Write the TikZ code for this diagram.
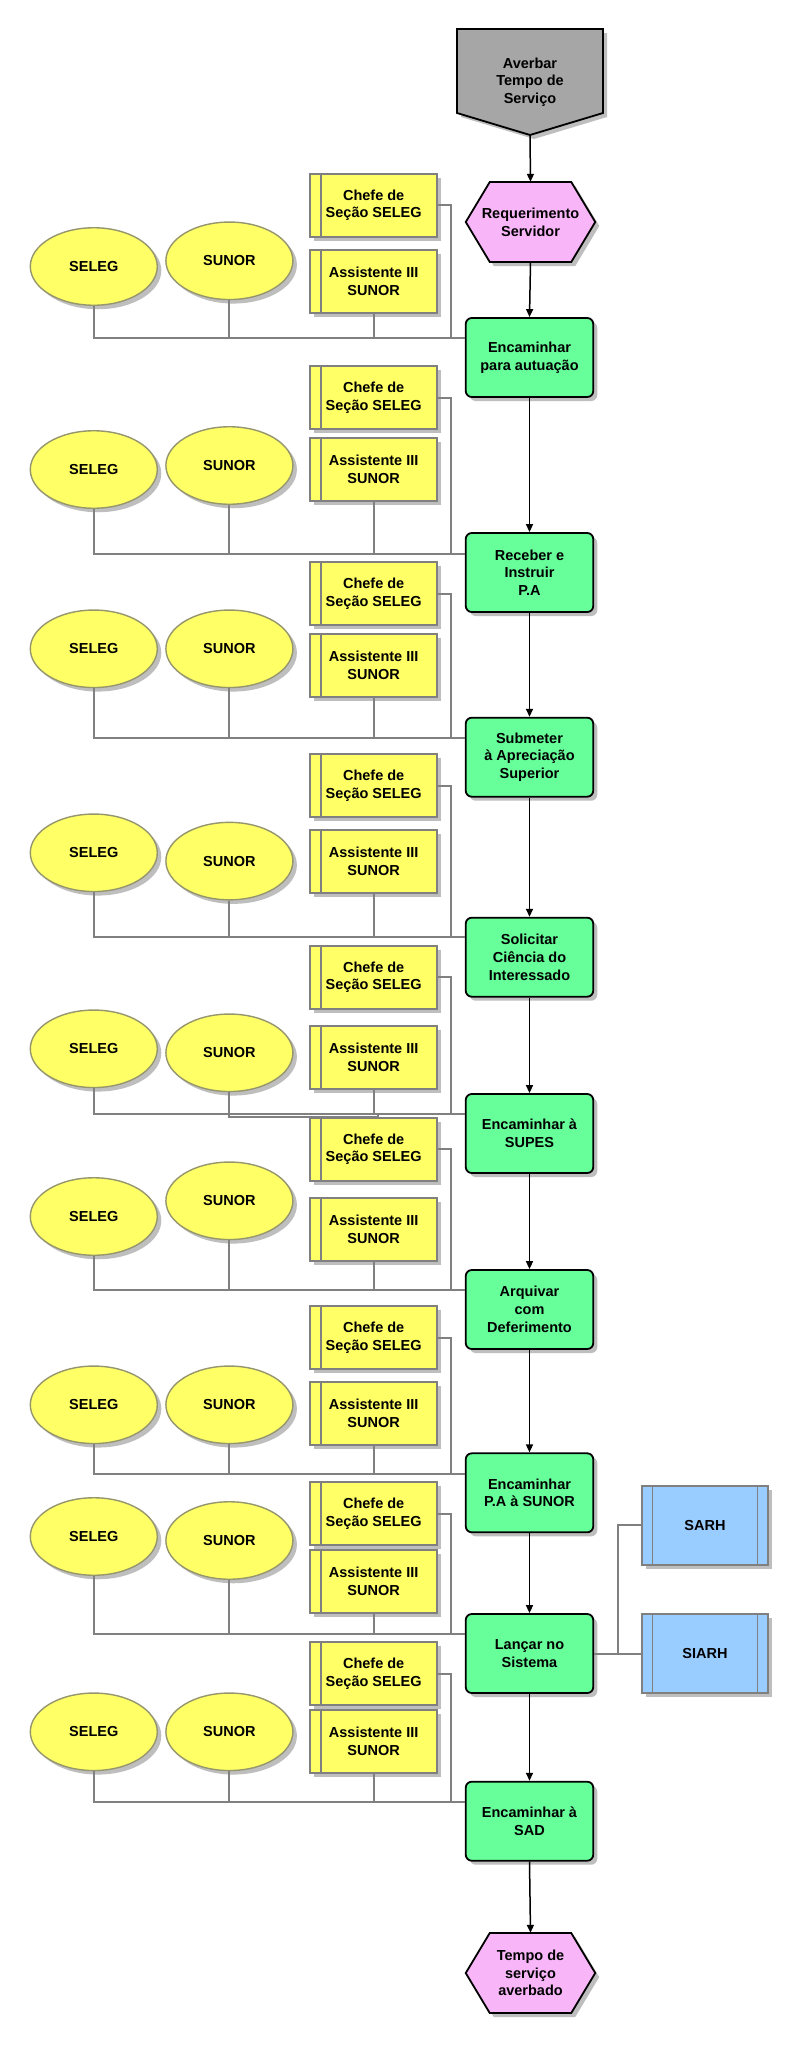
\documentclass[tikz,border=0pt]{standalone}
\usepackage{fontspec}
\setmainfont{Liberation Sans}
\usetikzlibrary{shapes.geometric,shadows,arrows.meta,calc}
\definecolor{greenc}{RGB}{102,255,153}
\definecolor{yellowc}{RGB}{255,255,102}
\definecolor{pinkc}{RGB}{248,182,248}
\definecolor{grayc}{RGB}{166,166,166}
\definecolor{bluec}{RGB}{153,204,255}
\definecolor{ybord}{RGB}{128,128,128}
\definecolor{ebord}{RGB}{150,150,110}
\definecolor{connc}{RGB}{128,128,128}
\definecolor{shadc}{RGB}{190,190,190}
\tikzset{
  txt/.style={font=\bfseries\fontsize{14.5}{17.7}\selectfont, align=center, inner sep=0pt},
  shad/.style={drop shadow={shadow xshift=4pt, shadow yshift=-4pt, fill=shadc, opacity=1}},
  fbox/.style={txt, shad, draw=black, line width=1.8pt, fill=greenc, rounded corners=6pt,
    minimum width=127.5pt, minimum height=79pt},
  ybox/.style={txt, shad, draw=ybord, line width=1.8pt, fill=yellowc,
    minimum width=127.3pt, minimum height=63pt},
  bbox/.style={txt, shad, draw=ybord, line width=1.8pt, fill=bluec,
    minimum width=126pt, minimum height=79pt},
  orgell/.style={txt, shad, ellipse, draw=ebord, line width=1.4pt, fill=yellowc,
    minimum width=127pt, minimum height=77.5pt},
  ghost/.style={txt, minimum width=127.5pt, minimum height=79pt},
  conn/.style={draw=connc, line width=2pt},
  flow/.style={draw=black, line width=1.5pt, -{Triangle[length=8pt,width=7pt]}},
}
% group: #1 id, #2 chefe top, #3 asst top, #4 seleg top, #5 sunor top, #6 line y, #7 target node
\newcommand\orggroup[7]{%
  \node[ybox] (c#1) at (373.65,{#2+31.5}) {Chefe de\\Seção SELEG};
  \draw[ybord, line width=1.4pt] ($(c#1.north west)+(11.7,0)$) -- ($(c#1.south west)+(11.7,0)$);
  \node[ybox] (a#1) at (373.65,{#3+31.5}) {Assistente III\\SUNOR};
  \draw[ybord, line width=1.4pt] ($(a#1.north west)+(11.7,0)$) -- ($(a#1.south west)+(11.7,0)$);
  \node[orgell] (se#1) at (93.8,{#4+38.8}) {SELEG};
  \node[orgell] (su#1) at (229.4,{#5+38.8}) {SUNOR};
  \coordinate (e#1) at (#7.west |- 0,#6);
  \draw[conn] (se#1.south) |- (e#1);
  \draw[conn] (su#1.south) -- (su#1.south |- e#1);
  \draw[conn] (a#1.south) -- (a#1.south |- e#1);
  \draw[conn] (c#1.east) -- ++(12.7,0) |- (e#1);
}
\begin{document}
\begin{tikzpicture}[x=1pt,y=-1pt]
\useasboundingbox (0,0) rectangle (801,2045);
\fill[white] (0,0) rectangle (801,2045);

% start pentagon
\fill[shadc] (461,33) -- (607,33) -- (607,117) -- (534,139) -- (461,117) -- cycle;
\draw[fill=grayc, line width=1.8pt] (457,29) -- (603,29) -- (603,113) -- (530,135) -- (457,113) -- cycle;
\node[txt, minimum width=146pt, minimum height=106pt] (start) at (530,82) {Averbar\\Tempo de\\Serviço};

% start event hexagon
\fill[shadc] (469.75,226) -- (493.75,186) -- (575.25,186) -- (599.25,226) -- (575.25,266) -- (493.75,266) -- cycle;
\draw[fill=pinkc, line width=1.8pt] (465.75,222) -- (489.75,182) -- (571.25,182) -- (595.25,222) -- (571.25,262) -- (489.75,262) -- cycle;
\node[ghost, minimum width=129.5pt, minimum height=80pt] (req) at (530.5,222) {Requerimento\\Servidor};

% functions
\node[fbox] (f1) at (529.5,357.5) {Encaminhar\\para autuação};
\node[fbox] (f2) at (529.5,572.5) {Receber e\\Instruir\\P.A};
\node[fbox] (f3) at (529.5,757.2) {Submeter\\à Apreciação\\Superior};
\node[fbox] (f4) at (529.5,957.2) {Solicitar\\Ciência do\\Interessado};
\node[fbox] (f5) at (529.5,1133.5) {Encaminhar à\\SUPES};
\node[fbox] (f6) at (529.5,1309.5) {Arquivar\\com\\Deferimento};
\node[fbox] (f7) at (529.5,1492.8) {Encaminhar\\P.A à SUNOR};
\node[fbox] (f8) at (529.5,1653.5) {Lançar no\\Sistema};
\node[fbox] (f9) at (529.5,1821.2) {Encaminhar à\\SAD};

% end event hexagon
\fill[shadc] (469.75,1977) -- (493.75,1937) -- (575.25,1937) -- (599.25,1977) -- (575.25,2017) -- (493.75,2017) -- cycle;
\draw[fill=pinkc, line width=1.8pt] (465.75,1973) -- (489.75,1933) -- (571.25,1933) -- (595.25,1973) -- (571.25,2013) -- (489.75,2013) -- cycle;
\node[ghost, minimum width=129.5pt, minimum height=80pt] (fim) at (530.5,1973) {Tempo de\\serviço\\averbado};

% organisational groups
\orggroup{1}{173.7}{250}{227.7}{222}{338}{f1}
\orggroup{2}{366}{437.7}{430.7}{426.7}{554}{f2}
\orggroup{3}{562}{634}{610}{610}{737.7}{f3}
\orggroup{4}{754}{830}{814}{822.3}{937.3}{f4}
\orggroup{5}{945.7}{1025.7}{1010}{1014}{1113.7}{f5}
\orggroup{6}{1117.7}{1198}{1177.7}{1162}{1290}{f6}
\orggroup{7}{1306}{1381.7}{1366}{1366}{1474}{f7}
\orggroup{8}{1482}{1550}{1497.7}{1501.7}{1633.7}{f8}
\orggroup{9}{1642}{1710}{1693}{1693}{1801.7}{f9}
\draw[conn] (su5.south) |- (378,1116.7) -- (378,1113.7);

% application systems
\node[bbox] (sarh) at (705,1525.3) {SARH};
\node[bbox] (siarh) at (705,1653.5) {SIARH};
\foreach \n in {sarh,siarh}{
  \draw[ybord, line width=1.4pt] ($(\n.north west)+(11.5,0)$) -- ($(\n.south west)+(11.5,0)$);
  \draw[ybord, line width=1.4pt] ($(\n.north east)+(-11.5,0)$) -- ($(\n.south east)+(-11.5,0)$);
}
\draw[conn] (f8.east) -- (siarh.west);
\draw[conn] (f8.east) -- ++(24,0) |- (sarh.west);

% control flow
\draw[flow] (start.south) -- (req.north);
\draw[flow] (req.south) -- (f1.north);
\draw[flow] (f1.south) -- (f2.north);
\draw[flow] (f2.south) -- (f3.north);
\draw[flow] (f3.south) -- (f4.north);
\draw[flow] (f4.south) -- (f5.north);
\draw[flow] (f5.south) -- (f6.north);
\draw[flow] (f6.south) -- (f7.north);
\draw[flow] (f7.south) -- (f8.north);
\draw[flow] (f8.south) -- (f9.north);
\draw[flow] (f9.south) -- (fim.north);
\end{tikzpicture}
\end{document}
